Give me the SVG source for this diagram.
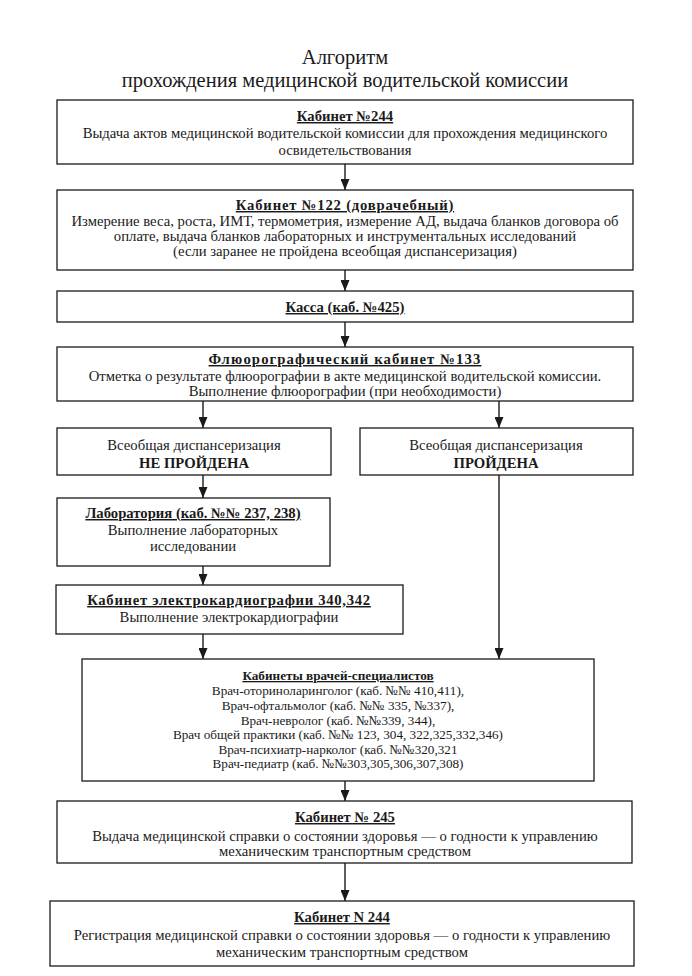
<svg xmlns="http://www.w3.org/2000/svg" width="692" height="976" viewBox="0 0 692 976">
<style>
  .box { fill: #fff; stroke: #1a1a1a; stroke-width: 1.3; }
  text { font-family: "Liberation Serif", "Times New Roman", serif; fill: #1a1a1a; text-anchor: middle; font-size: 14.7px; }
  .ttl { font-size: 20.5px; }
  .hd { font-weight: bold; text-decoration: underline; }
  .b { font-weight: bold; }
  .sm { font-size: 13.2px; }
  .conn line { stroke: #1a1a1a; stroke-width: 1.4; marker-end: url(#arr); }
</style>
<defs>
  <marker id="arr" markerUnits="userSpaceOnUse" markerWidth="9" markerHeight="11" refX="4.5" refY="11" orient="0">
    <path d="M0,0 L9,0 L4.5,11 z" fill="#1a1a1a"/>
  </marker>
</defs>
<rect width="692" height="976" fill="#fff"/>
<g id="title">
  <text class="ttl" x="345" y="64">Алгоритм</text>
  <text class="ttl" x="345" y="87">прохождения медицинской водительской комиссии</text>
</g>
<g id="n1">
  <rect class="box" x="57" y="100" width="576" height="64"/>
  <text class="hd" x="345" y="121">Кабинет №244</text>
  <text x="345" y="138">Выдача актов медицинской водительской комиссии для прохождения медицинского</text>
  <text x="345" y="155">освидетельствования</text>
</g>
<g id="n2">
  <rect class="box" x="57" y="190" width="576" height="80"/>
  <text class="hd" x="345" y="210" letter-spacing="0.8">Кабинет №122 (доврачебный)</text>
  <text x="345" y="226">Измерение веса, роста, ИМТ, термометрия, измерение АД, выдача бланков договора об</text>
  <text x="345" y="241">оплате, выдача бланков лабораторных и инструментальных исследований</text>
  <text x="345" y="256">(если заранее не пройдена всеобщая диспансеризация)</text>
</g>
<g id="n3">
  <rect class="box" x="57" y="291" width="576" height="31"/>
  <text class="hd" x="345" y="312">Касса (каб. №425)</text>
</g>
<g id="n4">
  <rect class="box" x="57" y="347" width="576" height="54"/>
  <text class="hd" x="345" y="364" letter-spacing="1.1">Флюорографический кабинет №133</text>
  <text x="345" y="381">Отметка о результате флюорографии в акте медицинской водительской комиссии.</text>
  <text x="345" y="396">Выполнение флюорографии (при необходимости)</text>
</g>
<g id="n5">
  <rect class="box" x="57" y="428" width="274" height="47"/>
  <text x="194" y="450">Всеобщая диспансеризация</text>
  <text class="b" x="194" y="468">НЕ ПРОЙДЕНА</text>
</g>
<g id="n6">
  <rect class="box" x="360" y="428" width="273" height="47"/>
  <text x="496" y="450">Всеобщая диспансеризация</text>
  <text class="b" x="496" y="468">ПРОЙДЕНА</text>
</g>
<g id="n7">
  <rect class="box" x="57" y="498" width="273" height="68"/>
  <text class="hd" x="193" y="518">Лаборатория (каб. №№ 237, 238)</text>
  <text x="193" y="535">Выполнение лабораторных</text>
  <text x="193" y="551">исследовании</text>
</g>
<g id="n8">
  <rect class="box" x="56" y="585" width="347" height="49"/>
  <text class="hd" x="229" y="605" letter-spacing="0.7">Кабинет электрокардиографии 340,342</text>
  <text x="229" y="622">Выполнение электрокардиографии</text>
</g>
<g id="n9">
  <rect class="box" x="82" y="659" width="512" height="122"/>
  <text class="hd sm" x="338" y="680">Кабинеты врачей-специалистов</text>
  <text class="sm" x="338" y="695">Врач-оториноларинголог (каб. №№ 410,411),</text>
  <text class="sm" x="338" y="710">Врач-офтальмолог (каб. №№ 335, №337),</text>
  <text class="sm" x="338" y="724.5">Врач-невролог (каб. №№339, 344),</text>
  <text class="sm" x="338" y="739">Врач общей практики (каб. №№ 123, 304, 322,325,332,346)</text>
  <text class="sm" x="338" y="753.5">Врач-психиатр-нарколог (каб. №№320,321</text>
  <text class="sm" x="338" y="768">Врач-педиатр (каб. №№303,305,306,307,308)</text>
</g>
<g id="n10">
  <rect class="box" x="57" y="801" width="575" height="62"/>
  <text class="hd" x="345" y="822">Кабинет № 245</text>
  <text x="345" y="841">Выдача медицинской справки о состоянии здоровья — о годности к управлению</text>
  <text x="345" y="856">механическим транспортным средством</text>
</g>
<g id="n11">
  <rect class="box" x="50" y="901" width="584" height="65"/>
  <text class="hd" x="342" y="922">Кабинет N 244</text>
  <text x="342" y="940">Регистрация медицинской справки о состоянии здоровья — о годности к управлению</text>
  <text x="342" y="957">механическим транспортным средством</text>
</g>
<g id="connectors" class="conn">
  <line x1="345" y1="164" x2="345" y2="190"/>
  <line x1="345" y1="270" x2="345" y2="291"/>
  <line x1="345" y1="322" x2="345" y2="347"/>
  <line x1="203" y1="401" x2="203" y2="428"/>
  <line x1="499" y1="401" x2="499" y2="428"/>
  <line x1="203" y1="475" x2="203" y2="498"/>
  <line x1="203" y1="566" x2="203" y2="585"/>
  <line x1="203" y1="634" x2="203" y2="659"/>
  <line x1="499" y1="475" x2="499" y2="659"/>
  <line x1="345" y1="781" x2="345" y2="801"/>
  <line x1="345" y1="863" x2="345" y2="901"/>
</g>
</svg>
